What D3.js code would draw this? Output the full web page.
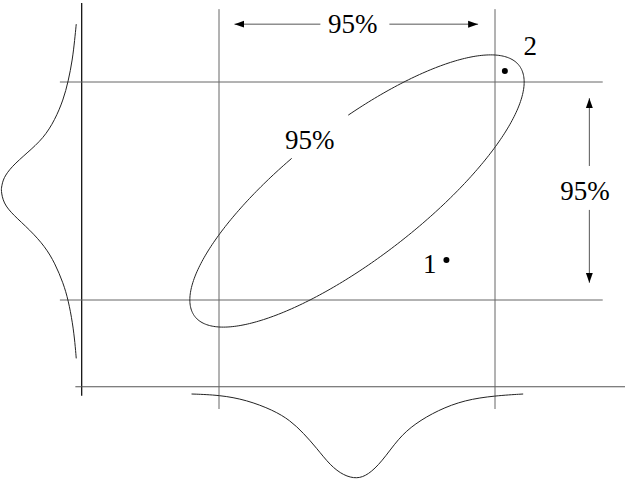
<!DOCTYPE html>
<html>
 <head>
  <meta charset="utf-8" />
  <title>95% region of a bivariate normal</title>
  <script src="https://cdn.jsdelivr.net/npm/d3@7"></script>
  <style>
    body { margin: 0; background: #fff; }
    text { font-family: "Liberation Serif", "DejaVu Serif", serif; font-size: 27px; fill: #000; }
  </style>
 </head>

 <body>
  <script>
    // 95% bounds of each marginal, in standard units
    var bounds = [-1.96, 1.96];

    // covariance of the pair
    var sdX = 0.97, sdY = 1.0, rho = 0.8, chi2_95 = 5.991;

    // the two observations
    var points = [
      {id: "1", x: 1.27, y: -1.24},
      {id: "2", x: 2.10, y: 2.16}
    ];

    // marginal density under the x axis: [x, relative height]
    var bottomCurve = [
      [-2.35, 0], [-1.95, 0.012], [-1.57, 0.07], [-1.19, 0.19], [-0.95, 0.31],
      [-0.76, 0.46], [-0.57, 0.64], [-0.38, 0.84], [-0.19, 0.96], [0, 1],
      [0.16, 0.95], [0.35, 0.80], [0.59, 0.52], [0.82, 0.35], [1.15, 0.19],
      [1.53, 0.07], [1.96, 0.02], [2.36, 0]
    ];

    // marginal density left of the y axis: [y, relative height]
    var leftCurve = [
      [3.0, 0.01], [2.72, 0.03], [2.36, 0.06], [1.97, 0.115], [1.64, 0.18],
      [1.28, 0.29], [0.95, 0.44], [0.68, 0.66], [0.44, 0.86], [0.23, 0.97],
      [0.08, 0.99], [0.02, 1], [-0.22, 0.97], [-0.43, 0.84], [-0.70, 0.62],
      [-1.00, 0.42], [-1.30, 0.29], [-1.66, 0.18], [-1.96, 0.115],
      [-2.38, 0.057], [-2.74, 0.026], [-3.01, 0.01]
    ];

    var labels = ["95%", "95%", "95%"];

    var w = 625, h = 480;

    var x = d3.scaleLinear().domain(bounds).range([219, 495]),
        y = d3.scaleLinear().domain(bounds).range([300, 82]),
        dBottom = d3.scaleLinear().domain([0, 1]).range([394, 479]),
        dLeft   = d3.scaleLinear().domain([0, 1]).range([77, 1]);

    var svg = d3.select("body")
      .append("svg")
      .attr("width", w)
      .attr("height", h);

    var defs = svg.append("defs");
    defs.append("marker")
        .attr("id", "arrow-end")
        .attr("markerUnits", "userSpaceOnUse")
        .attr("viewBox", "0 -4 10 8")
        .attr("refX", 10)
        .attr("refY", 0)
        .attr("markerWidth", 10)
        .attr("markerHeight", 8)
        .attr("orient", "auto")
      .append("path")
        .attr("d", "M0,-3.5L10,0L0,3.5Z")
        .attr("fill", "#000");

    // axes of the scatter panel
    svg.append("line")
        .attr("x1", x(-3.91)).attr("x2", x(-3.91))
        .attr("y1", y(3.38)).attr("y2", y(-3.68))
        .attr("stroke", "#000").attr("stroke-width", 1.2);
    svg.append("line")
        .attr("x1", x(-4.0)).attr("x2", w)
        .attr("y1", y(-3.52)).attr("y2", y(-3.52))
        .attr("stroke", "#555").attr("stroke-width", 1);

    // 95% bounds of the marginals
    svg.selectAll(".hline")
      .data(bounds)
      .enter().append("line")
        .attr("class", "hline")
        .attr("x1", x(-4.22)).attr("x2", x(3.49))
        .attr("y1", function(d) { return y(d); })
        .attr("y2", function(d) { return y(d); })
        .attr("stroke", "#666").attr("stroke-width", 1);

    svg.selectAll(".vline")
      .data(bounds)
      .enter().append("line")
        .attr("class", "vline")
        .attr("x1", function(d) { return x(d); })
        .attr("x2", function(d) { return x(d); })
        .attr("y1", y(3.27)).attr("y2", y(-3.92))
        .attr("stroke", "#666").attr("stroke-width", 1);

    // marginal densities
    svg.append("path")
        .datum(bottomCurve)
        .attr("d", d3.line()
          .x(function(d) { return x(d[0]); })
          .y(function(d) { return dBottom(d[1]); })
          .curve(d3.curveBasis))
        .attr("fill", "none").attr("stroke", "#222").attr("stroke-width", 1);

    svg.append("path")
        .datum(leftCurve)
        .attr("d", d3.line()
          .x(function(d) { return dLeft(d[1]); })
          .y(function(d) { return y(d[0]); })
          .curve(d3.curveBasis))
        .attr("fill", "none").attr("stroke", "#222").attr("stroke-width", 1);

    // 95% ellipse, broken where its label sits (t from 113 to 93 degrees round)
    var r = Math.sqrt(chi2_95);
    var ellipse = d3.range(113, 454, 1).map(function(deg) {
      var t = deg * Math.PI / 180;
      return [r * sdX * Math.cos(t),
              r * sdY * (rho * Math.cos(t) + Math.sqrt(1 - rho * rho) * Math.sin(t))];
    });
    svg.append("path")
        .datum(ellipse)
        .attr("d", d3.line()
          .x(function(d) { return x(d[0]); })
          .y(function(d) { return y(d[1]); }))
        .attr("fill", "none").attr("stroke", "#222").attr("stroke-width", 1);

    // interval arrows
    var arrows = [
      {x1: -0.52, y1: 3.0, x2: -1.74, y2: 3.0},
      {x1: 0.46, y1: 3.0, x2: 1.72, y2: 3.0},
      {x1: 3.30, y1: 0.45, x2: 3.30, y2: 1.67},
      {x1: 3.30, y1: -0.34, x2: 3.30, y2: -1.65}
    ];
    svg.selectAll(".arrow")
      .data(arrows)
      .enter().append("line")
        .attr("class", "arrow")
        .attr("x1", function(d) { return x(d.x1); })
        .attr("y1", function(d) { return y(d.y1); })
        .attr("x2", function(d) { return x(d.x2); })
        .attr("y2", function(d) { return y(d.y2); })
        .attr("stroke", "#555").attr("stroke-width", 1)
        .attr("marker-end", "url(#arrow-end)");

    var labelPos = [[-0.06, 2.84], [3.24, -0.16], [-0.67, 0.76]];
    svg.selectAll(".label")
      .data(labels)
      .enter().append("text")
        .attr("class", "label")
        .attr("x", function(d, i) { return x(labelPos[i][0]); })
        .attr("y", function(d, i) { return y(labelPos[i][1]); })
        .attr("text-anchor", "middle")
        .text(function(d) { return d; });

    // observations
    svg.selectAll(".pt")
      .data(points)
      .enter().append("circle")
        .attr("class", "pt")
        .attr("cx", function(d) { return x(d.x); })
        .attr("cy", function(d) { return y(d.y); })
        .attr("r", 3)
        .attr("fill", "#000");

    var ptLabel = {"1": [-0.14, -0.23, "end"], "2": [0.36, 0.29, "middle"]};
    svg.selectAll(".ptlabel")
      .data(points)
      .enter().append("text")
        .attr("class", "ptlabel")
        .attr("x", function(d) { return x(d.x + ptLabel[d.id][0]); })
        .attr("y", function(d) { return y(d.y + ptLabel[d.id][1]); })
        .attr("text-anchor", function(d) { return ptLabel[d.id][2]; })
        .text(function(d) { return d.id; });
  </script>
 </body>
</html>
